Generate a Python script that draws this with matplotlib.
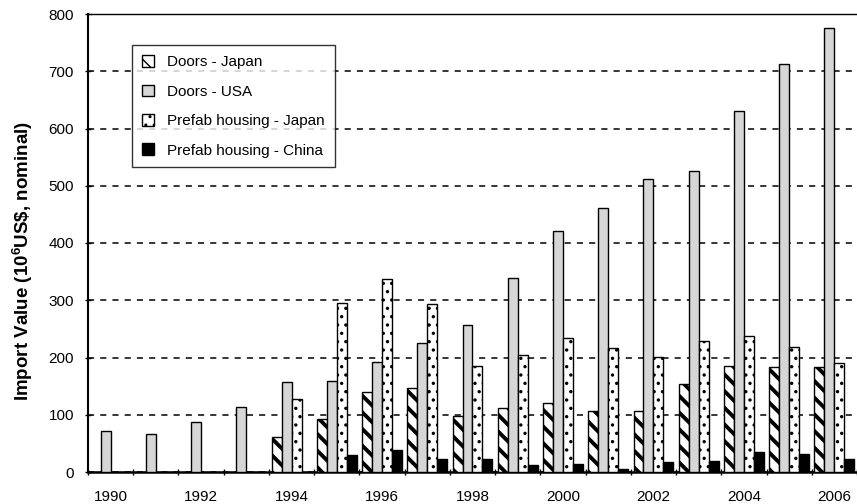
import numpy as np
import matplotlib
matplotlib.use('Agg')
import matplotlib.pyplot as plt

plt.rcParams['font.family'] = ['Liberation Sans', 'DejaVu Sans']
plt.rcParams['mathtext.fontset'] = 'custom'
plt.rcParams['mathtext.bf'] = 'Liberation Sans:bold'
plt.rcParams['mathtext.rm'] = 'Liberation Sans:bold'

# Data
years = list(range(1990, 2007))
doors_japan = [0, 0, 0, 0, 62, 92, 140, 147, 98, 111, 120, 107, 107, 153, 186, 183, 183]
doors_usa = [72, 66, 87, 114, 157, 159, 193, 226, 257, 339, 421, 462, 511, 526, 630, 712, 775]
prefab_japan = [0, 0, 0, 0, 128, 295, 337, 293, 186, 204, 234, 216, 201, 229, 238, 219, 191]
prefab_china = [0, 0, 0, 0, 0, 29, 38, 23, 23, 13, 14, 6, 17, 20, 35, 32, 22]

# name, values, face colour, hatch, hatch line width
series = [
    ('Doors - Japan', doors_japan, 'white', '\\\\', 2.8),
    ('Doors - USA', doors_usa, '#d6d6d6', None, 1.0),
    ('Prefab housing - Japan', prefab_japan, 'white', '..', 1.2),
    ('Prefab housing - China', prefab_china, 'black', None, 1.0),
]

fig = plt.figure(figsize=(8.57, 5.04), dpi=100)
ax = fig.add_axes([88 / 857, 1 - 472 / 504, 1 - 88 / 857, (472 - 14) / 504])

x = np.arange(len(years))
w = 0.22
for i, (name, vals, fc, hatch, hlw) in enumerate(series):
    with plt.rc_context({'hatch.linewidth': hlw}):
        bars = ax.bar(x + (i - 1.5) * w, vals, width=w, color=fc, edgecolor='black',
                      linewidth=1.0, hatch=hatch, label=name, zorder=3)
    for b in bars:
        if hasattr(b, 'set_hatch_linewidth'):
            b.set_hatch_linewidth(hlw)

ax.set_ylim(0, 800)
ax.set_xlim(-0.5, 16.37)
ax.set_yticks(range(0, 801, 100))
ax.yaxis.grid(True, linestyle=(0, (4, 4)), color='black', linewidth=1.1)
ax.set_axisbelow(True)

ax.set_xticks(x[::2])
ax.set_xticklabels([str(y) for y in years[::2]], fontsize=11)
ax.set_xticks(np.arange(-0.5, 17, 1), minor=True)
ax.tick_params(axis='x', which='major', length=0, pad=13)
ax.tick_params(axis='x', which='minor', length=4, direction='inout', width=1)
ax.tick_params(axis='y', length=4, direction='inout', width=1, labelsize=11, pad=8)

ax.spines['right'].set_visible(False)
ax.spines['left'].set_linewidth(1.5)
ax.spines['bottom'].set_linewidth(1.8)
ax.spines['top'].set_linewidth(1.0)

ax.set_ylabel('Import Value (10$^{\\mathbf{6}}$US\\$, nominal)', fontsize=13.5,
              fontweight='bold')
ax.yaxis.set_label_coords(-0.069, 0.461)

leg = ax.legend(loc='upper left', bbox_to_anchor=(0.057, 0.932), borderaxespad=0,
                fontsize=11, frameon=True, fancybox=False, edgecolor='black',
                handlelength=0.8, handleheight=0.8, labelspacing=1.0,
                borderpad=0.65, handletextpad=0.85)
leg.get_frame().set_linewidth(1.0)

fig.savefig('out.png', dpi=100)
